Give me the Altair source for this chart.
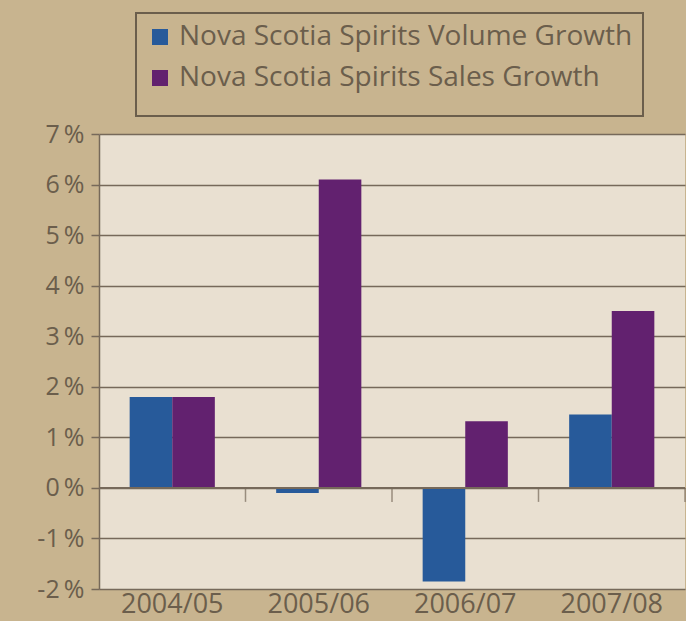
import altair as alt
import pandas as pd

categories = ["2004/05", "2005/06", "2006/07", "2007/08"]
volume_growth = [1.8, -0.1, -1.85, 1.45]
sales_growth = [1.8, 6.1, 1.32, 3.5]
series_names = ["Nova Scotia Spirits Volume Growth", "Nova Scotia Spirits Sales Growth"]
series_colors = ["#275A9A", "#62216F"]
y_ticks = [-0.02, -0.01, 0, 0.01, 0.02, 0.03, 0.04, 0.05, 0.06, 0.07]

rows = []
for c, v, s in zip(categories, volume_growth, sales_growth):
    rows.append({"year": c, "series": series_names[0], "value": v / 100})
    rows.append({"year": c, "series": series_names[1], "value": s / 100})
df = pd.DataFrame(rows)
cat_df = pd.DataFrame({"year": categories})

TXT = "#6B5E4C"
LINE = "#76695A"

xscale = alt.Scale(domain=categories, paddingInner=0, paddingOuter=0)
yscale = alt.Scale(domain=[-0.02, 0.07], nice=False, zero=False)

bars = alt.Chart(df).mark_bar().encode(
    x=alt.X("year:N", scale=xscale, title=None,
            axis=alt.Axis(labelAngle=0, labelFontSize=27, labelColor=TXT, labelPadding=2,
                          domain=False, ticks=False, grid=False)),
    xOffset=alt.XOffset("series:N", scale=alt.Scale(domain=series_names, paddingOuter=0.72, paddingInner=0)),
    y=alt.Y("value:Q", scale=yscale, title=None,
            axis=alt.Axis(values=y_ticks,
                          labelExpr="(datum.value < 0 ? '-' : '') + format(abs(datum.value) * 100, '.0f') + '\u2009%'",
                          labelFontSize=25, labelColor=TXT,
                          labelPadding=7, tickSize=8, tickColor=LINE, tickWidth=1.5,
                          domain=True, domainColor=LINE, domainWidth=1.5,
                          grid=True, gridColor=LINE, gridWidth=1.5)),
    color=alt.Color("series:N", scale=alt.Scale(domain=series_names, range=series_colors), title=" ",
                    legend=alt.Legend(orient="none", legendX=37, legendY=-121,
                                      symbolType="square", symbolSize=256, symbolStrokeWidth=0,
                                      symbolOpacity=1, labelFontSize=28, labelColor=TXT,
                                      labelOffset=5, labelLimit=700, rowPadding=13, padding=10,
                                      titleOrient="bottom", titleFontSize=10, titlePadding=4,
                                      strokeColor="#6B5E4C")),
)

zero_line = alt.Chart(cat_df).mark_rule(color=LINE, strokeWidth=2).encode(y=alt.datum(0))

ticks = alt.Chart(cat_df).mark_tick(orient="vertical", size=14, yOffset=7, thickness=1.5, color=LINE).encode(
    x=alt.X("year:N", scale=xscale, bandPosition=1),
    y=alt.datum(0),
)

chart = alt.layer(bars, zero_line, ticks).properties(
    width=586, height=455,
    autosize=alt.AutoSizeParams(type="none"),
    padding={"left": 99, "top": 134, "right": 1, "bottom": 32},
    background="#C8B48F",
).configure(
    font="Open Sans"
).configure_view(fill="#E9E0D1", stroke=None).configure_legend(strokeWidth=2)

chart.save("out.html", embed_options={"renderer": "svg", "actions": False})
